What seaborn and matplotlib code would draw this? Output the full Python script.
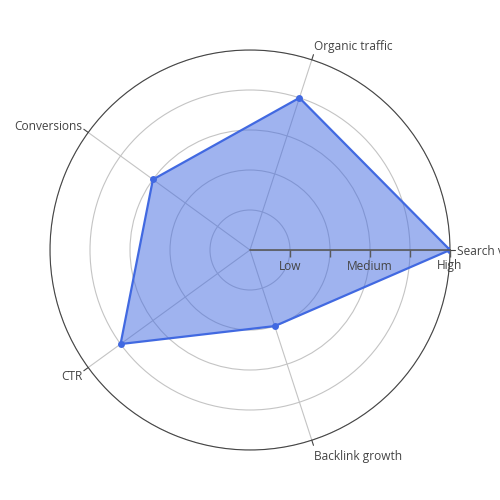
import numpy as np
import pandas as pd
import seaborn as sns
import matplotlib.pyplot as plt

categories = ["Search volume", "Organic traffic", "Conversions", "CTR", "Backlink growth"]
scores = [5, 4, 3, 4, 2]
r_ticks = [1, 2, 3, 4, 5]
r_labels = ["Low", "", "Medium", "", "High"]

sns.set_style("white")
plt.rcParams['font.family'] = ['Open Sans', 'DejaVu Sans']

line_col = '#4169E1'
text_col = '#444444'
grid_col = '#c4c4c4'

# closed polygon
theta = np.linspace(0, 2 * np.pi, len(categories), endpoint=False)
df = pd.DataFrame({"theta": np.append(theta, theta[0] + 2 * np.pi),
                   "r": scores + scores[:1]})

fig = plt.figure(figsize=(5, 5), dpi=100)
ax = fig.add_axes([0.1, 0.1, 0.8, 0.8], projection='polar')
ax.set_theta_zero_location('E')
ax.set_axisbelow(True)

ax.fill(df["theta"], df["r"], color=line_col, alpha=0.5, lw=0, zorder=2)
sns.lineplot(data=df, x="theta", y="r", sort=False, estimator=None, ax=ax,
             color=line_col, lw=1.6, marker='o', markersize=5,
             markeredgewidth=0, zorder=3)

rmax = r_ticks[-1]
ax.set_ylim(0, rmax)
ax.set_yticks(r_ticks)
ax.set_yticklabels([])
ax.set_xticks(theta)
ax.set_xticklabels([])
ax.set_xlabel("")
ax.set_ylabel("")
ax.grid(True, color=grid_col, lw=0.8)
ax.spines['polar'].set_color(text_col)
ax.spines['polar'].set_linewidth(0.8)
ax.tick_params(axis='both', length=0)

# angular tick marks outside the circle
for th in theta:
    ax.plot([th, th], [rmax, rmax * 1.027], color=text_col, lw=0.8,
            clip_on=False, zorder=4)

# radial axis line above the trace
ax.plot([0, 0], [0, rmax], color='#5a5a5a', lw=1.2, zorder=5, clip_on=False)
ax.plot([0] * len(r_ticks), r_ticks, ls='', marker=3, markersize=5,
        markeredgewidth=1, color='#5a5a5a', zorder=5, clip_on=False)
for rv, lab in zip(r_ticks, r_labels):
    if lab:
        ax.annotate(lab, xy=(0, rv), xytext=(0, -16), textcoords='offset pixels',
                    ha='center', va='center', fontsize=8.6, color=text_col,
                    zorder=6)

# angular labels outside the circle
for th, lab in zip(theta, categories):
    c, s = np.cos(th), np.sin(th)
    ha = 'left' if c > 0.1 else ('right' if c < -0.1 else 'center')
    dy = 9.4 * s + 7.1 * s ** 3 - 1.5
    ax.annotate(lab, xy=(th, rmax), xytext=(7 * c, dy),
                textcoords='offset pixels', ha=ha, va='center',
                fontsize=8.6, color=text_col, annotation_clip=False)

fig.savefig("out.png", dpi=100)
